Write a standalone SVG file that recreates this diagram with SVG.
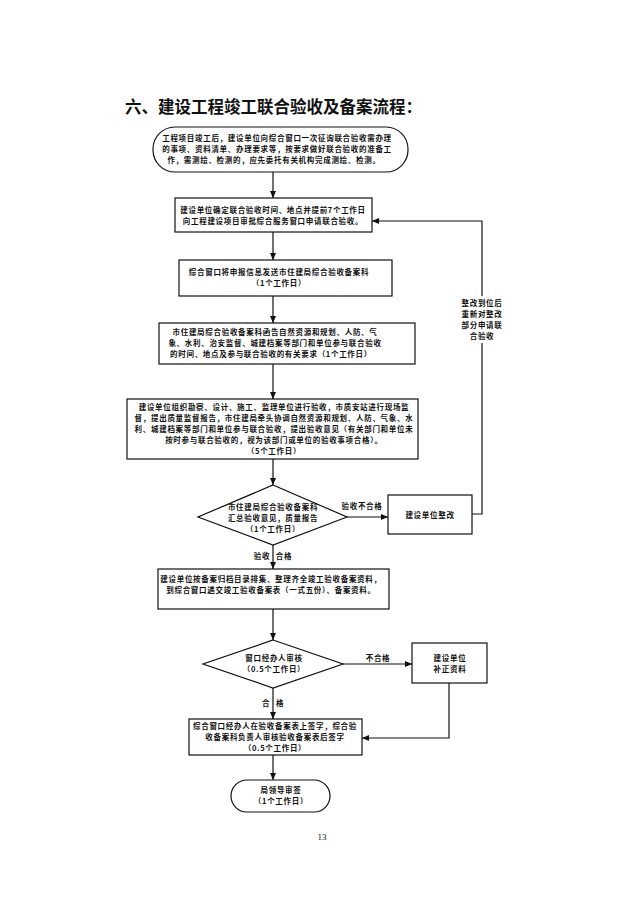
<svg xmlns="http://www.w3.org/2000/svg" width="638" height="899" viewBox="0 0 638 899">
<style>
.t{font-family:"Noto Sans CJK SC","Noto Sans",sans-serif;font-size:7.5px;letter-spacing:0.7px;font-weight:bold;fill:#111;text-anchor:middle}
.title{font-family:"Noto Sans CJK SC",sans-serif;font-size:16.5px;font-weight:bold;fill:#111}
.s{fill:#fff;stroke:#111;stroke-width:1.2}
.c{fill:none;stroke:#111;stroke-width:1.2}
.pg{font-family:"Liberation Serif",serif;font-size:9px;fill:#111;text-anchor:middle}
</style>
<defs>
<marker id="ah" markerWidth="8" markerHeight="8" refX="7" refY="4" orient="auto" markerUnits="userSpaceOnUse">
<path d="M0,1 L7,4 L0,7 Z" fill="#111"/>
</marker>
</defs>
<rect width="638" height="899" fill="#fff"/>
<text class="title" x="125" y="113">六、建设工程竣工联合验收及备案流程：</text>

<g id="connectors">
<line class="c" x1="273" y1="172" x2="273" y2="198" marker-end="url(#ah)"/>
<line class="c" x1="273" y1="232" x2="273" y2="260" marker-end="url(#ah)"/>
<line class="c" x1="273" y1="296" x2="273" y2="323" marker-end="url(#ah)"/>
<line class="c" x1="273" y1="364" x2="273" y2="399" marker-end="url(#ah)"/>
<line class="c" x1="273" y1="459" x2="273" y2="485" marker-end="url(#ah)"/>
<line class="c" x1="273" y1="545" x2="273" y2="569" marker-end="url(#ah)"/>
<line class="c" x1="273" y1="609" x2="273" y2="640" marker-end="url(#ah)"/>
<line class="c" x1="273" y1="688" x2="273" y2="719" marker-end="url(#ah)"/>
<line class="c" x1="273" y1="755" x2="273" y2="780" marker-end="url(#ah)"/>
<line class="c" x1="347" y1="517" x2="388" y2="517" marker-end="url(#ah)"/>
<polyline class="c" points="472,514 482,514 482,343"/>
<polyline class="c" points="482,296 482,221 372,221" marker-end="url(#ah)"/>
<line class="c" x1="343" y1="664" x2="412" y2="664" marker-end="url(#ah)"/>
<polyline class="c" points="449,683 449,738 362,738" marker-end="url(#ah)"/>
<text class="t" x="362" y="509">验收不合格</text>
<text class="t" x="262" y="559">验收</text>
<text class="t" x="284" y="559">合格</text>
<text class="t" x="482" y="306">整改到位后</text>
<text class="t" x="482" y="317">重新对整改</text>
<text class="t" x="482" y="328">部分申请联</text>
<text class="t" x="482" y="339">合验收</text>
<text class="t" x="378" y="661">不合格</text>
<text class="t" x="266" y="706">合</text>
<text class="t" x="280" y="706">格</text>
</g>

<g id="start">
<rect class="s" x="153" y="127" width="255" height="45" rx="22" ry="22"/>
<text class="t" x="277" y="141">工程项目竣工后，建设单位向综合窗口一次征询联合验收需办理</text>
<text class="t" x="277" y="152">的事项、资料清单、办理要求等，按要求做好联合验收的准备工</text>
<text class="t" x="274" y="163">作，需测绘、检测的，应先委托有关机构完成测绘、检测。</text>
</g>

<g id="apply">
<rect class="s" x="175" y="198" width="197" height="34"/>
<text class="t" x="273" y="213">建设单位确定联合验收时间、地点并提前7个工作日</text>
<text class="t" x="273" y="224">向工程建设项目审批综合服务窗口申请联合验收。</text>
</g>

<g id="send">
<rect class="s" x="179" y="260" width="213" height="36"/>
<text class="t" x="279" y="275">综合窗口将申报信息发送市住建局综合验收备案科</text>
<text class="t" x="279" y="286">（1个工作日）</text>
</g>

<g id="notify">
<rect class="s" x="159" y="323" width="256" height="41"/>
<text class="t" x="275" y="335">市住建局综合验收备案科函告自然资源和规划、人防、气</text>
<text class="t" x="275" y="346">象、水利、治安监督、城建档案等部门和单位参与联合验收</text>
<text class="t" x="271" y="357">的时间、地点及参与联合验收的有关要求（1个工作日）</text>
</g>

<g id="inspect">
<rect class="s" x="127" y="399" width="291" height="60"/>
<text class="t" x="274" y="410">建设单位组织勘察、设计、施工、监理单位进行验收，市质安站进行现场监</text>
<text class="t" x="274" y="421">督，提出质量监督报告，市住建局牵头协调自然资源和规划、人防、气象、水</text>
<text class="t" x="274" y="432">利、城建档案等部门和单位参与联合验收，提出验收意见（有关部门和单位未</text>
<text class="t" x="274" y="443">按时参与联合验收的，视为该部门或单位的验收事项合格）。</text>
<text class="t" x="274" y="454">（5个工作日）</text>
</g>

<g id="summary">
<polygon class="s" points="273,485 347,517 273,545 198,517"/>
<text class="t" x="273" y="510">市住建局综合验收备案科</text>
<text class="t" x="273" y="521">汇总验收意见，质量报告</text>
<text class="t" x="273" y="532" font-weight="normal">（1个工作日）</text>
</g>

<g id="rectify">
<rect class="s" x="388" y="495" width="84" height="39"/>
<text class="t" x="430" y="518">建设单位整改</text>
</g>

<g id="submit">
<rect class="s" x="158" y="569" width="231" height="40"/>
<text class="t" x="271" y="582">建设单位按备案归档目录排集、整理齐全竣工验收备案资料，</text>
<text class="t" x="271" y="593">到综合窗口递交竣工验收备案表（一式五份）、备案资料。</text>
</g>

<g id="review">
<polygon class="s" points="273,640 343,664 273,688 203,664"/>
<text class="t" x="274" y="661">窗口经办人审核</text>
<text class="t" x="274" y="672">（0.5个工作日）</text>
</g>

<g id="supplement">
<rect class="s" x="412" y="643" width="75" height="40"/>
<text class="t" x="450" y="661">建设单位</text>
<text class="t" x="450" y="672">补正资料</text>
</g>

<g id="sign">
<rect class="s" x="189" y="719" width="173" height="36"/>
<text class="t" x="275" y="729">综合窗口经办人在验收备案表上签字，综合验</text>
<text class="t" x="275" y="740">收备案科负责人审核验收备案表后签字</text>
<text class="t" x="275" y="751">（0.5个工作日）</text>
</g>

<g id="end">
<rect class="s" x="231" y="780" width="99" height="32" rx="16" ry="16"/>
<text class="t" x="281" y="793">局领导审签</text>
<text class="t" x="281" y="804">（1个工作日）</text>
</g>

<text class="pg" x="322" y="840">13</text>
</svg>
